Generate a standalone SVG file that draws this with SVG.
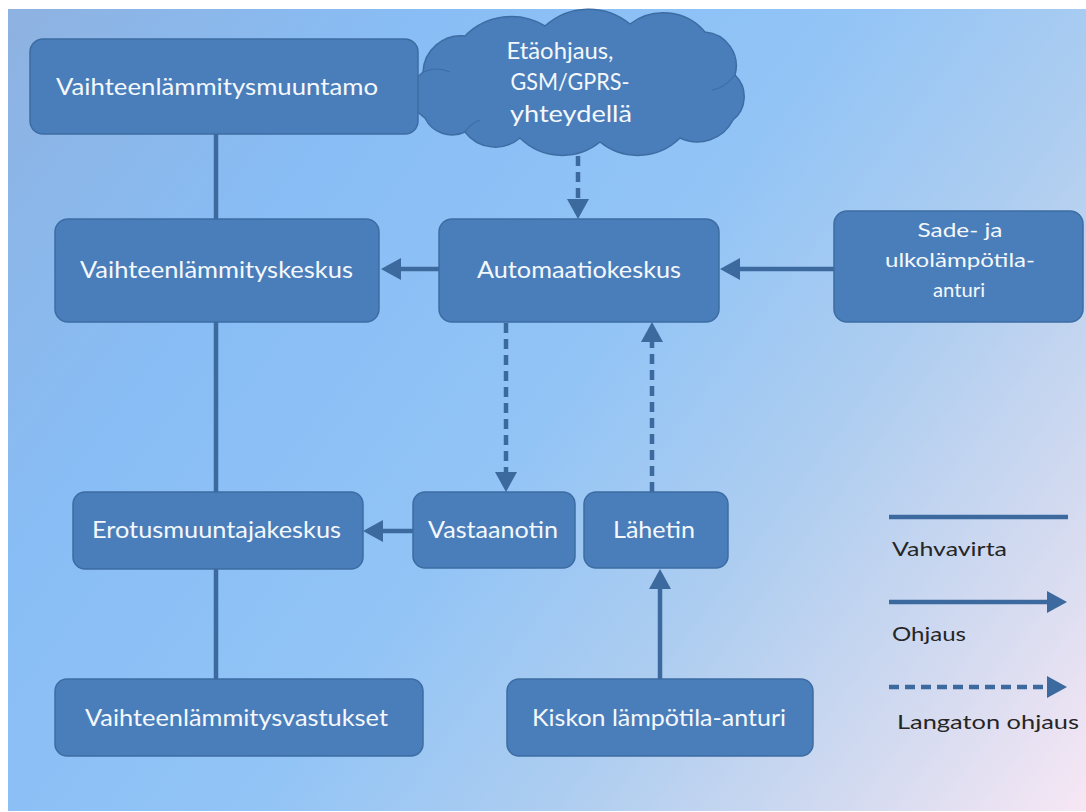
<svg xmlns="http://www.w3.org/2000/svg" width="1086" height="812" viewBox="0 0 1086 812">
<defs>
<linearGradient id="bg" gradientUnits="userSpaceOnUse" x1="8" y1="9" x2="1086" y2="811">
<stop offset="0" stop-color="#8EB2E1"/>
<stop offset="0.25" stop-color="#88BDF5"/>
<stop offset="0.5" stop-color="#92C4F6"/>
<stop offset="0.68" stop-color="#ADCDF0"/>
<stop offset="0.85" stop-color="#D2DAF0"/>
<stop offset="1" stop-color="#F7E7F4"/>
</linearGradient>
<marker id="ah" viewBox="0 0 20 22" refX="10" refY="11" markerWidth="20" markerHeight="22" markerUnits="userSpaceOnUse" orient="auto">
<path d="M0,0 L20,11 L0,22 Z" fill="#3C699E"/>
</marker>
</defs>
<style>
.box{fill:#4A7EBB;stroke:#3D6CA3;stroke-width:1.5}
.inner{fill:none;stroke:#3D6CA3;stroke-width:1.2}
.lbl{font-family:Lato,"Liberation Sans",sans-serif;font-size:24px;fill:#F4F8FC;text-anchor:middle}
.sm{font-size:20px}
.leg{font-family:Lato,"Liberation Sans",sans-serif;font-size:20px;fill:#262626}
.ln{stroke:#3C699E;stroke-width:4.5;fill:none}
.da{stroke-dasharray:10 6}
</style>
<rect x="0" y="0" width="1086" height="812" fill="#FFFFFF"/>
<rect x="8" y="9" width="1078" height="802" fill="url(#bg)"/>

<g id="connectors">
<line class="ln" x1="216" y1="134" x2="216" y2="219"/>
<line class="ln" x1="216" y1="322" x2="216" y2="492"/>
<line class="ln" x1="216" y1="569" x2="216" y2="679"/>
<line class="ln" x1="439" y1="269" x2="391" y2="269" marker-end="url(#ah)"/>
<line class="ln" x1="834" y1="269" x2="730" y2="269" marker-end="url(#ah)"/>
<line class="ln da" x1="578" y1="156" x2="578" y2="209" marker-end="url(#ah)"/>
<line class="ln da" x1="506" y1="323" x2="506" y2="482" marker-end="url(#ah)"/>
<line class="ln da" x1="652" y1="492" x2="652" y2="332" marker-end="url(#ah)"/>
<line class="ln" x1="413" y1="531" x2="373" y2="531" marker-end="url(#ah)"/>
<line class="ln" x1="660" y1="679" x2="660" y2="579" marker-end="url(#ah)"/>
</g>

<g id="cloud">
<path class="box" d="M425,118 A28,28 0 0 1 423,72 A38,38 0 0 1 465,36 A65,65 0 0 1 545,26 A65,65 0 0 1 630,24 A55,55 0 0 1 705,32 A34,34 0 0 1 735,75 A30,30 0 0 1 733,120 A40,40 0 0 1 680,138 A60,60 0 0 1 600,142 A60,60 0 0 1 520,138 A38,38 0 0 1 465,132 A30,30 0 0 1 425,118 Z"/>
<path class="inner" d="M423,72 Q437,66 450,72"/>
<path class="inner" d="M735,75 Q725,88 712,90"/>
<path class="inner" d="M465,132 Q470,124 480,120"/>
<text class="lbl" x="560" y="59" textLength="107" lengthAdjust="spacingAndGlyphs">Etäohjaus,</text>
<text class="lbl" x="570" y="90" textLength="119" lengthAdjust="spacingAndGlyphs">GSM/GPRS-</text>
<text class="lbl" x="571" y="122" textLength="122" lengthAdjust="spacingAndGlyphs">yhteydellä</text>
</g>

<g id="muuntamo">
<rect class="box" x="30" y="39" width="388" height="95" rx="13"/>
<text class="lbl" x="217" y="95" textLength="322" lengthAdjust="spacingAndGlyphs">Vaihteenlämmitysmuuntamo</text>
</g>

<g id="keskus">
<rect class="box" x="55" y="219" width="324" height="103" rx="13"/>
<text class="lbl" x="216.5" y="278" textLength="273" lengthAdjust="spacingAndGlyphs">Vaihteenlämmityskeskus</text>
</g>

<g id="automaatio">
<rect class="box" x="439" y="219" width="280" height="103" rx="13"/>
<text class="lbl" x="579" y="278" textLength="204" lengthAdjust="spacingAndGlyphs">Automaatiokeskus</text>
</g>

<g id="sade">
<rect class="box" x="834" y="211" width="249" height="111" rx="13"/>
<text class="lbl sm" x="960" y="237" textLength="85" lengthAdjust="spacingAndGlyphs">Sade- ja</text>
<text class="lbl sm" x="960" y="267" textLength="150" lengthAdjust="spacingAndGlyphs">ulkolämpötila-</text>
<text class="lbl sm" x="959" y="297" textLength="52" lengthAdjust="spacingAndGlyphs">anturi</text>
</g>

<g id="erotus">
<rect class="box" x="73" y="492" width="290" height="77" rx="12"/>
<text class="lbl" x="216.5" y="538" textLength="249" lengthAdjust="spacingAndGlyphs">Erotusmuuntajakeskus</text>
</g>

<g id="vastaanotin">
<rect class="box" x="413" y="492" width="162" height="76" rx="12"/>
<text class="lbl" x="493" y="538" textLength="130" lengthAdjust="spacingAndGlyphs">Vastaanotin</text>
</g>

<g id="lahetin">
<rect class="box" x="584" y="492" width="144" height="76" rx="12"/>
<text class="lbl" x="654" y="538" textLength="82" lengthAdjust="spacingAndGlyphs">Lähetin</text>
</g>

<g id="vastukset">
<rect class="box" x="55" y="679" width="368" height="77" rx="12"/>
<text class="lbl" x="236.5" y="726" textLength="303" lengthAdjust="spacingAndGlyphs">Vaihteenlämmitysvastukset</text>
</g>

<g id="kiskon">
<rect class="box" x="507" y="679" width="306" height="77" rx="12"/>
<text class="lbl" x="659" y="726" textLength="254" lengthAdjust="spacingAndGlyphs">Kiskon lämpötila-anturi</text>
</g>

<g id="legend">
<line class="ln" x1="889" y1="517" x2="1068" y2="517"/>
<text class="leg" x="892" y="556" textLength="115" lengthAdjust="spacingAndGlyphs">Vahvavirta</text>
<line class="ln" x1="889" y1="602" x2="1057" y2="602" marker-end="url(#ah)"/>
<text class="leg" x="892" y="641" textLength="74" lengthAdjust="spacingAndGlyphs">Ohjaus</text>
<line class="ln da" x1="889" y1="687" x2="1057" y2="687" marker-end="url(#ah)"/>
<text class="leg" x="897" y="729" textLength="182" lengthAdjust="spacingAndGlyphs">Langaton ohjaus</text>
</g>
</svg>
